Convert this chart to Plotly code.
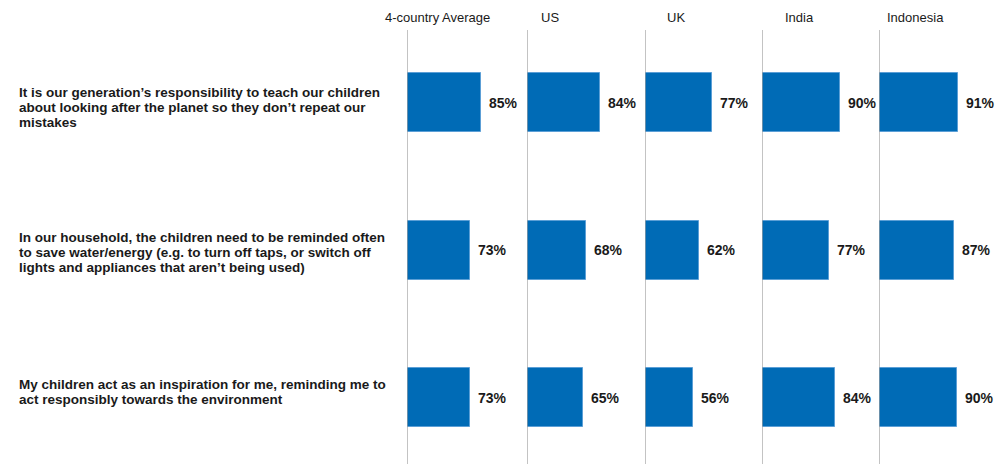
import plotly.graph_objects as go

# ---- data ----
countries = ["4-country Average", "US", "UK", "India", "Indonesia"]
statements = [
    ["It is our generation’s responsibility to teach our children",
     "about looking after the planet so they don’t repeat our",
     "mistakes"],
    ["In our household, the children need to be reminded often",
     "to save water/energy (e.g. to turn off taps, or switch off",
     "lights and appliances that aren’t being used)"],
    ["My children act as an inspiration for me, reminding me to",
     "act responsibly towards the environment"],
]
avg_pct = [85, 73, 73]
us_pct = [84, 68, 65]
uk_pct = [77, 62, 56]
india_pct = [90, 77, 84]
indonesia_pct = [91, 87, 90]
series = [avg_pct, us_pct, uk_pct, india_pct, indonesia_pct]

# ---- layout settings (pixels) ----
W, H = 998, 464
col_left = [407, 527, 645, 762, 879]     # x of each panel's baseline
col_width = 115
px_per_pct = 0.865
header_dx = [-24, 12, 20, 21, 6]          # header text offset from baseline
header_y = 17
line_top = 30
row_center = [102.5, 250, 397.5]
row_step = 147.5
label_yshift = [-5, -2, 6]
label_line_gap = 15

BLUE = "#006bb6"
EDGE = "#5c9fd6"
FONT = "Liberation Sans, Arial, sans-serif"

rows = list(range(len(statements)))
fig = go.Figure()

y_top = -row_center[0] / row_step
y_bot = (H - row_center[0]) / row_step

layout_axes = {}
annotations = []
shapes = []
for i, (name, vals) in enumerate(zip(countries, series)):
    ax = "x" if i == 0 else f"x{i + 1}"
    axkey = "xaxis" if i == 0 else f"xaxis{i + 1}"
    fig.add_trace(go.Bar(
        x=vals, y=rows, orientation="h", xaxis=ax, yaxis="y",
        width=0.4, marker=dict(color=BLUE, line=dict(color=EDGE, width=1)),
        hoverinfo="skip", showlegend=False,
    ))
    layout_axes[axkey] = dict(
        domain=[col_left[i] / W, (col_left[i] + col_width) / W],
        range=[0, col_width / px_per_pct], anchor="y",
        showgrid=False, zeroline=False, showticklabels=False,
        showline=False, ticks="", fixedrange=True,
    )
    # baseline of each panel
    shapes.append(dict(
        type="line", xref=ax, yref="paper", x0=0, x1=0,
        y0=0, y1=1 - line_top / H,
        line=dict(color="#a3a3a3", width=1.3),
    ))
    # column header
    annotations.append(dict(
        text=name, xref="paper", yref="paper",
        x=(col_left[i] + header_dx[i]) / W, y=1 - header_y / H,
        xanchor="left", yanchor="middle", showarrow=False,
        font=dict(family=FONT, size=13, color="#1a1a1a"),
    ))
    # value labels
    for r, v in zip(rows, vals):
        annotations.append(dict(
            text=f"<b>{v}%</b>", xref=ax, yref="y", x=v, y=r,
            xanchor="left", yanchor="middle", xshift=6, showarrow=False,
            font=dict(family=FONT, size=14, color="#1a1a1a"),
        ))

# statement labels, one annotation per line for tight line spacing
for r, lines in zip(rows, statements):
    n = len(lines)
    for k, line in enumerate(lines):
        annotations.append(dict(
            text=f"<b>{line}</b>", xref="paper", yref="y", x=17 / W, y=r,
            xanchor="left", yanchor="middle", align="left", showarrow=False,
            yshift=label_yshift[r] - (k - (n - 1) / 2) * label_line_gap,
            font=dict(family=FONT, size=13.5, color="#1a1a1a"),
        ))

fig.update_layout(
    width=W, height=H,
    margin=dict(l=0, r=0, t=0, b=0),
    paper_bgcolor="white", plot_bgcolor="white",
    yaxis=dict(domain=[0, 1], range=[y_bot, y_top], showgrid=False,
               zeroline=False, showticklabels=False, showline=False,
               ticks="", fixedrange=True),
    annotations=annotations, shapes=shapes,
    bargap=0,
    **layout_axes,
)

fig.write_html("out.html")
